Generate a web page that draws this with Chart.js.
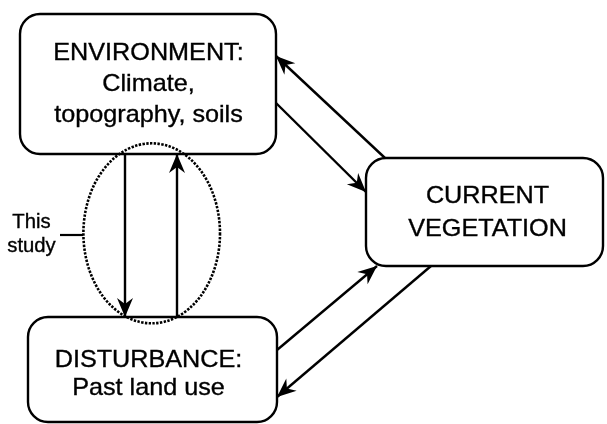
<!DOCTYPE html>
<html>
<head>
<meta charset="utf-8">
<script src="https://cdn.jsdelivr.net/npm/chart.js@4.4.1/dist/chart.umd.min.js"></script>
<style>
  html, body { margin: 0; padding: 0; background: #ffffff; }
  #wrap { width: 607px; height: 424px; }
</style>
</head>
<body>
<div id="wrap"><canvas id="c" width="607" height="424"></canvas></div>
<script>
// ---- diagram data (in diagram units = pixels of the 607x424 frame) ----
const nodeLabels = [
  ["ENVIRONMENT:", "Climate,", "topography, soils"],
  ["CURRENT", "VEGETATION"],
  ["DISTURBANCE:", "Past land use"]
];
const nodeLeft   = [20, 366, 28];
const nodeTop    = [14, 158, 317];
const nodeRight  = [276, 603, 277];
const nodeBottom = [154, 266, 422];
const nodeTextX  = [148.5, 487.5, 148.5];
const nodeFirstBaseline = [59.5, 203.3, 367.3];
const nodeLineGap = [31, 33, 28];

// arrows: start -> end (arrowhead at end)
const arrowFromX = [276, 385, 277, 431, 125, 177];
const arrowFromY = [103, 158, 350, 266, 154, 317];
const arrowToX   = [366, 276, 377, 277, 125, 177];
const arrowToY   = [192, 56, 266, 397, 317, 154];

// "This study" highlight
const studyEllipse = { cx: 151.7, cy: 233.3, rx: 68.3, ry: 90 };
const noteLines = ["This", "study"];
const noteX = 31.5;
const noteBaselines = [228.3, 251.7];
const noteLeaderX = [60, 83];
const noteLeaderY = 235;

// ---- datasets built from the arrays ----
const datasets = arrowFromX.map((fx, i) => ({
  type: 'line',
  label: 'arrow' + i,
  data: [{ x: fx, y: arrowFromY[i] }, { x: arrowToX[i], y: arrowToY[i] }],
  borderColor: '#000',
  borderWidth: 2.4,
  pointRadius: 0,
  pointHoverRadius: 0,
  showLine: true,
  fill: false,
  tension: 0
}));
datasets.push({
  type: 'line',
  label: 'leader',
  data: [{ x: noteLeaderX[0], y: noteLeaderY }, { x: noteLeaderX[1], y: noteLeaderY }],
  borderColor: '#000',
  borderWidth: 2.2,
  pointRadius: 0,
  showLine: true,
  fill: false
});

function roundRect(ctx, x, y, w, h, r) {
  ctx.beginPath();
  ctx.moveTo(x + r, y);
  ctx.lineTo(x + w - r, y);
  ctx.arcTo(x + w, y, x + w, y + r, r);
  ctx.lineTo(x + w, y + h - r);
  ctx.arcTo(x + w, y + h, x + w - r, y + h, r);
  ctx.lineTo(x + r, y + h);
  ctx.arcTo(x, y + h, x, y + h - r, r);
  ctx.lineTo(x, y + r);
  ctx.arcTo(x, y, x + r, y, r);
  ctx.closePath();
}

const diagramPlugin = {
  id: 'diagram',
  beforeDatasetsDraw(chart) {
    const ctx = chart.ctx, xs = chart.scales.x, ys = chart.scales.y;
    ctx.save();
    for (let i = 0; i < nodeLabels.length; i++) {
      const x0 = xs.getPixelForValue(nodeLeft[i]);
      const x1 = xs.getPixelForValue(nodeRight[i]);
      const y0 = ys.getPixelForValue(nodeTop[i]);
      const y1 = ys.getPixelForValue(nodeBottom[i]);
      roundRect(ctx, x0, y0, x1 - x0, y1 - y0, 20);
      ctx.fillStyle = '#fff';
      ctx.fill();
      ctx.lineWidth = 2.4;
      ctx.strokeStyle = '#000';
      ctx.stroke();
    }
    ctx.restore();
  },
  afterDatasetsDraw(chart) {
    const ctx = chart.ctx, xs = chart.scales.x, ys = chart.scales.y;
    ctx.save();
    // arrowheads
    for (let i = 0; i < arrowFromX.length; i++) {
      const pts = chart.getDatasetMeta(i).data;
      const a = pts[0], b = pts[1];
      const ang = Math.atan2(b.y - a.y, b.x - a.x);
      const L = 19, W = 8, N = 13;
      ctx.save();
      ctx.translate(b.x, b.y);
      ctx.rotate(ang);
      ctx.beginPath();
      ctx.moveTo(0, 0);
      ctx.lineTo(-L, -W);
      ctx.lineTo(-N, 0);
      ctx.lineTo(-L, W);
      ctx.closePath();
      ctx.fillStyle = '#000';
      ctx.fill();
      ctx.restore();
    }
    // dotted ellipse
    const cx = xs.getPixelForValue(studyEllipse.cx);
    const cy = ys.getPixelForValue(studyEllipse.cy);
    const rx = Math.abs(xs.getPixelForValue(studyEllipse.cx + studyEllipse.rx) - cx);
    const ry = Math.abs(ys.getPixelForValue(studyEllipse.cy + studyEllipse.ry) - cy);
    ctx.beginPath();
    ctx.ellipse(cx, cy, rx, ry, 0, 0, Math.PI * 2);
    ctx.setLineDash([2.4, 1.4]);
    ctx.lineWidth = 2.6;
    ctx.strokeStyle = '#000';
    ctx.stroke();
    ctx.setLineDash([]);

    // node texts
    ctx.fillStyle = '#000';
    ctx.strokeStyle = '#000';
    ctx.lineWidth = 0.35;
    ctx.textAlign = 'center';
    ctx.textBaseline = 'alphabetic';
    ctx.font = '24px "Liberation Sans", Arial, sans-serif';
    for (let i = 0; i < nodeLabels.length; i++) {
      const tx = xs.getPixelForValue(nodeTextX[i]);
      nodeLabels[i].forEach((line, k) => {
        const ty = ys.getPixelForValue(nodeFirstBaseline[i] + k * nodeLineGap[i]);
        ctx.save();
        ctx.translate(tx, ty);
        ctx.scale(1.05, 1);
        ctx.fillText(line, 0, 0);
        ctx.strokeText(line, 0, 0);
        ctx.restore();
      });
    }
    // note text
    ctx.font = '19.5px "Liberation Sans", Arial, sans-serif';
    noteLines.forEach((line, k) => {
      ctx.save();
      ctx.translate(xs.getPixelForValue(noteX), ys.getPixelForValue(noteBaselines[k]));
      ctx.scale(1.04, 1);
      ctx.fillText(line, 0, 0);
      ctx.strokeText(line, 0, 0);
      ctx.restore();
    });
    ctx.restore();
  }
};

new Chart(document.getElementById('c'), {
  type: 'scatter',
  data: { datasets },
  options: {
    responsive: false,
    animation: false,
    events: [],
    layout: { padding: 0 },
    plugins: { legend: { display: false }, tooltip: { enabled: false } },
    scales: {
      x: { type: 'linear', min: 0, max: 607, display: false },
      y: { type: 'linear', min: 0, max: 424, reverse: true, display: false }
    }
  },
  plugins: [diagramPlugin]
});
</script>
</body>
</html>
